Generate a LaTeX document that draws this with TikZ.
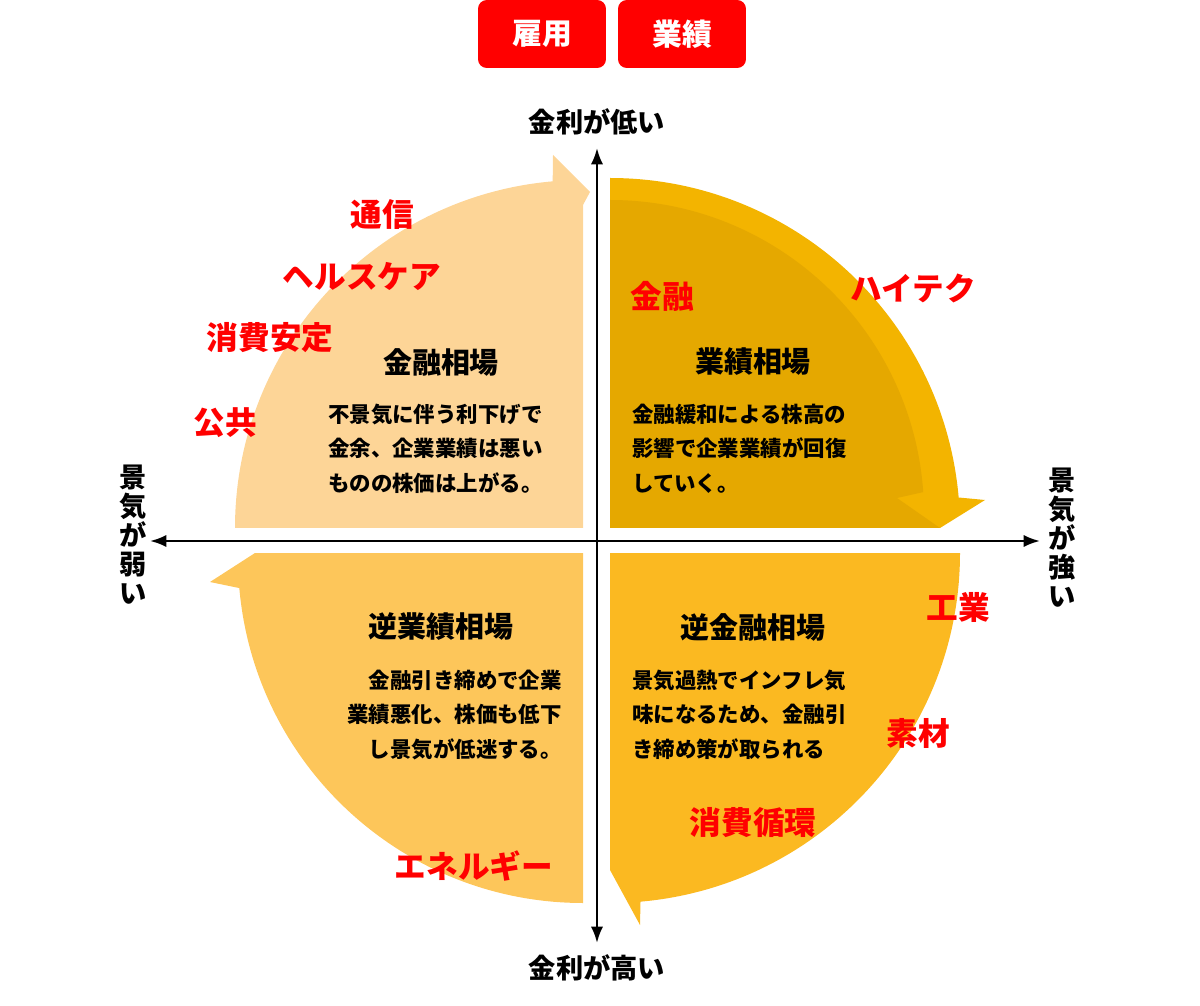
\documentclass[tikz,border=0pt]{standalone}
\usepackage{fontspec}
\setmainfont{Noto Sans CJK JP}
\usetikzlibrary{positioning,arrows.meta}
\definecolor{qtl}{HTML}{FDD597}
\definecolor{qtr}{HTML}{F3B400}
\definecolor{qtrin}{HTML}{E5A800}
\definecolor{qbr}{HTML}{FBB921}
\definecolor{qbl}{HTML}{FDC65A}
\definecolor{lblred}{HTML}{FF0000}
\tikzset{
	every node/.style={font=\bfseries},
	axis/.style={Latex-Latex,line width=1.4pt},
	title/.style={font=\bfseries\fontsize{16.5}{18}\selectfont},
	body/.style={font=\bfseries\fontsize{12.2}{19.5}\selectfont,align=left},
	sector/.style={text=lblred,font=\bfseries\fontsize{18}{20}\selectfont},
	tag/.style={fill=lblred,text=white,rounded corners=5pt,minimum width=2.56cm,minimum height=1.36cm,font=\bfseries\fontsize{17}{19}\selectfont},
	axlabel/.style={font=\bfseries\fontsize{15.5}{17}\selectfont},
	vlabel/.style={font=\bfseries\fontsize{15.5}{16.5}\selectfont,align=center}
}
\begin{document}
\begin{tikzpicture}[x=0.02cm,y=-0.02cm]
	\useasboundingbox (0,0) rectangle (1200,1006);
	% quarters
	\fill[qtl] (235,528) arc[start angle=180,end angle=265,radius=348] -- (553,155) -- (590,192) -- (583,205) -- (583,528) -- cycle;
	\fill[qtr] (610,528) -- (610,178) arc[start angle=-90,end angle=-5,radius=350] -- (985,500) -- (940,528) -- cycle;
	\fill[qtrin] (610,528) -- (610,200) arc[start angle=-90,end angle=-4,radius=314] -- (897,498) -- (940,528) -- cycle;
	\fill[qbr] (610,553) -- (960,553) arc[start angle=0,end angle=85,radius=350] -- (640,925) -- (610,870) -- cycle;
	\fill[qbl] (583,553) -- (583,903) arc[start angle=90,end angle=175,radius=345] -- (210,582) -- (255,553) -- cycle;
	% axes
	\coordinate (xl) at (150,541);
	\coordinate (xr) at (1040,541);
	\coordinate (yt) at (597,148);
	\coordinate (yb) at (597,943);
	\draw[axis] (xl) -- (xr);
	\draw[axis] (yt) -- (yb);
	% tags
	\node (koyo) [tag] at (542,34) {雇用};
	\node (gyoseki) [tag] at (682,34) {業績};
	% axis labels
	\node (low) [axlabel] at (597,122) {金利が低い};
	\node (high) [axlabel] at (597,968) {金利が高い};
	\node (weak) [vlabel] at (133,535) {景\\気\\が\\弱\\い};
	\node (strong) [vlabel] at (1062,538) {景\\気\\が\\強\\い};
	% titles
	\node (kinyu) [title] at (441,362) {金融相場};
	\node (gyo) [title] at (753,362) {業績相場};
	\node (rgyo) [title] at (441,627) {逆業績相場};
	\node (rkinyu) [title] at (753,627) {逆金融相場};
	% bodies
	\node (tlbody) [body,anchor=north west] at (322,398) {不景気に伴う利下げで\\金余、企業業績は悪い\\ものの株価は上がる。};
	\node (trbody) [body,anchor=north west] at (626,398) {金融緩和による株高の\\影響で企業業績が回復\\していく。};
	\node (blbody) [body,align=right,anchor=north east] at (568,664) {金融引き締めで企業\\業績悪化、株価も低下\\し景気が低迷する。};
	\node (brbody) [body,anchor=north west] at (626,664) {景気過熱でインフレ気\\味になるため、金融引\\き締め策が取られる};
	% sectors
	\node (tsushin) [sector] at (382,215) {通信};
	\node (health) [sector] at (362,277) {ヘルスケア};
	\node (anteii) [sector] at (270,338) {消費安定};
	\node (kokyo) [sector] at (225,423) {公共};
	\node (finance) [sector] at (662,296) {金融};
	\node (hitech) [sector] at (913,288) {ハイテク};
	\node (kogyo) [sector] at (958,607) {工業};
	\node (sozai) [sector] at (918,733) {素材};
	\node (junkan) [sector] at (753,823) {消費循環};
	\node (energy) [sector] at (474,866) {エネルギー};
\end{tikzpicture}
\end{document}
